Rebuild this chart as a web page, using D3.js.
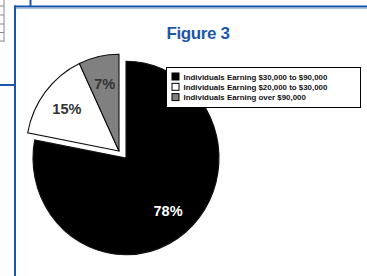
<!DOCTYPE html>
<html><head><meta charset="utf-8">
<script src="https://cdn.jsdelivr.net/npm/d3@7"></script>
<style>html,body{margin:0;padding:0;background:#fff;}svg{display:block;}</style>
</head><body>
<svg id="c" width="367" height="276"></svg>
<script>
const categories = ["Individuals Earning $30,000 to $90,000", "Individuals Earning $20,000 to $30,000", "Individuals Earning over $90,000"];
const values = [78, 15, 7];
const labels = ["78%", "15%", "7%"];
const title = "Figure 3";

const colors = ["#000000", "#ffffff", "#808080"];
const labelColors = ["#ffffff", "#333333", "#333333"];
const exploded = [false, true, true];

const svg = d3.select("#c");
const blue = "#1a55ad";

// decorative frame
const tableY = [6, 15, 24, 32.5, 41];
tableY.forEach(y => svg.append("line").attr("x1", 0).attr("x2", 4).attr("y1", y).attr("y2", y).attr("stroke", "#888").attr("stroke-width", 1));
svg.append("line").attr("x1", 4).attr("x2", 4).attr("y1", 0).attr("y2", 42).attr("stroke", "#888").attr("stroke-width", 1);
svg.append("line").attr("x1", 14).attr("x2", 367).attr("y1", 6.5).attr("y2", 6.5).attr("stroke", blue).attr("stroke-width", 2);
svg.append("line").attr("x1", 16).attr("x2", 367).attr("y1", 8.5).attr("y2", 8.5).attr("stroke", "#a9c3e6").attr("stroke-width", 1);
svg.append("line").attr("x1", 15).attr("x2", 15).attr("y1", 5.5).attr("y2", 276).attr("stroke", blue).attr("stroke-width", 2);
svg.append("line").attr("x1", 30.5).attr("x2", 30.5).attr("y1", 0).attr("y2", 7).attr("stroke", blue).attr("stroke-width", 2);
svg.append("line").attr("x1", 0).attr("x2", 15).attr("y1", 85).attr("y2", 85).attr("stroke", blue).attr("stroke-width", 2);

// title
svg.append("text").attr("x", 198).attr("y", 39).attr("text-anchor", "middle")
  .attr("font-family", "Liberation Sans, Arial, sans-serif").attr("font-weight", "bold")
  .attr("font-size", 17).attr("letter-spacing", -0.4).attr("fill", "#1d57a9").text(title);

// pie
const r = 93;
const cx = 126, cy = 158, sy = 1.04;
const explodeDx = -7, explodeDy = -7;
const pie = d3.pie().sort(null).value(d => d)(values);
const arc = d3.arc().innerRadius(0).outerRadius(r);
const labelArc = d3.arc().innerRadius(66).outerRadius(66);

const g = svg.append("g").attr("transform", `translate(${cx},${cy})`);
pie.forEach((p, i) => {
  const dx = exploded[i] ? explodeDx : 0, dy = exploded[i] ? explodeDy : 0;
  g.append("path").attr("d", arc(p))
    .attr("transform", `translate(${dx},${dy}) scale(1,${sy})`)
    .attr("fill", colors[i]).attr("stroke", "#111").attr("stroke-width", 1.1)
    .attr("stroke-linejoin", "miter");
});
pie.forEach((p, i) => {
  const dx = exploded[i] ? explodeDx : 0, dy = exploded[i] ? explodeDy : 0;
  const c = labelArc.centroid(p);
  g.append("text").attr("x", c[0] + dx).attr("y", c[1] * sy + dy + 5)
    .attr("text-anchor", "middle")
    .attr("font-family", "Liberation Sans, Arial, sans-serif").attr("font-weight", "bold")
    .attr("font-size", 14.5).attr("fill", labelColors[i]).text(labels[i]);
});

// legend
const lg = svg.append("g");
lg.append("rect").attr("x", 166.5).attr("y", 67.5).attr("width", 194).attr("height", 40)
  .attr("fill", "#fff").attr("stroke", "#000").attr("stroke-width", 1);
categories.forEach((c, i) => {
  const y = 73 + i * 10.3;
  lg.append("rect").attr("x", 172).attr("y", y).attr("width", 7).attr("height", 7)
    .attr("fill", colors[i]).attr("stroke", "#000").attr("stroke-width", 1);
  lg.append("text").attr("x", 183.5).attr("y", y + 6.8)
    .attr("font-family", "Liberation Sans, Arial, sans-serif").attr("font-weight", "bold")
    .attr("font-size", 7.9).attr("fill", "#111").text(c);
});
</script>
</body></html>
